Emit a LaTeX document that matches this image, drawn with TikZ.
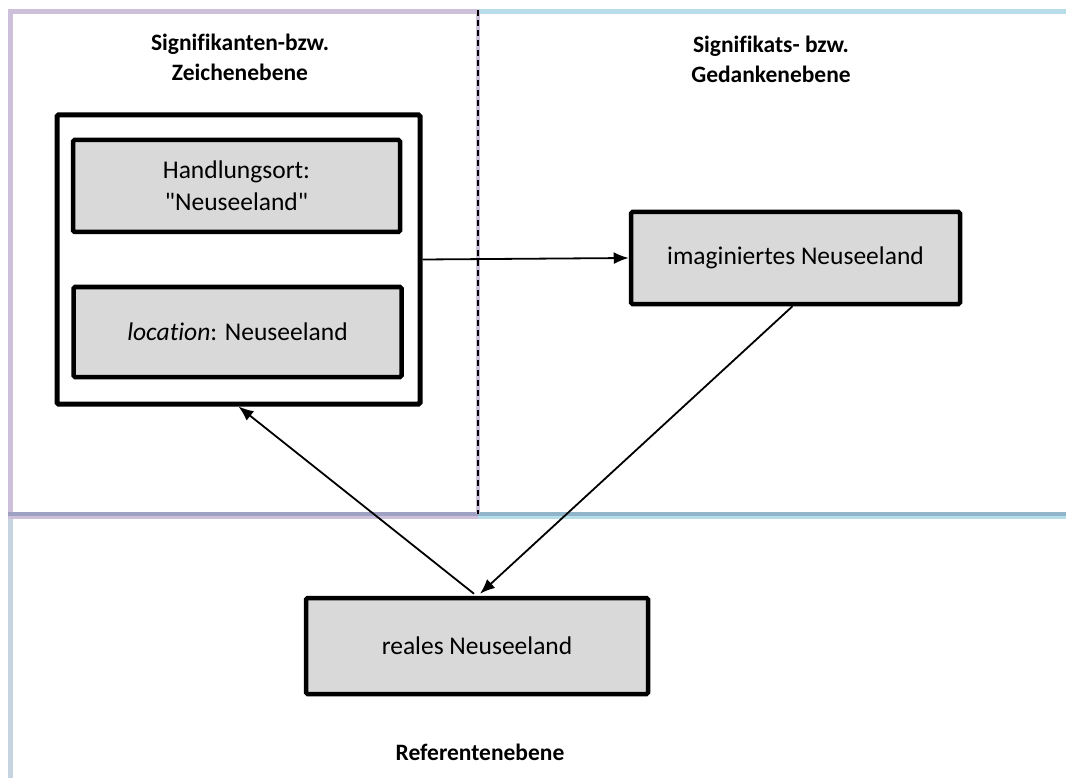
\documentclass[tikz,border=0pt]{standalone}
\usepackage{fontspec}
\setmainfont{Carlito}[Ligatures={TeXOff,NoCommon}]
\usetikzlibrary{arrows.meta,calc}
\definecolor{lav}{HTML}{CCC0DA}
\definecolor{lblue}{HTML}{B7DDE8}
\definecolor{midlav}{HTML}{9EA1C1}
\definecolor{midblue}{HTML}{90B5CA}
\definecolor{grayblue}{HTML}{C6D3E0}
\definecolor{boxgray}{HTML}{D9D9D9}
\tikzset{
  frameline/.style={line width=5pt},
  title/.style={font=\fontsize{23.5}{30}\selectfont\bfseries, align=center, inner sep=0pt},
  graybox/.style={draw=black, line width=4.5pt, fill=boxgray, rounded corners=1.5pt,
    font=\fontsize{25.5}{32}\selectfont, align=center, inner sep=0pt},
  outerbox/.style={draw=black, line width=5pt, fill=white, rounded corners=1.5pt, inner sep=0pt},
  link/.style={line width=1.8pt, -{Latex[length=15pt,width=12pt]}}
}
\begin{document}
\begin{tikzpicture}[x=1pt,y=-1pt]
\useasboundingbox (0,0) rectangle (1066,778);
\fill[white] (0,0) rectangle (1066,778);

% frames of the three levels
\draw[frameline, lav] (8,12) -- (478,12);
\draw[frameline, lblue] (478,12) -- (1066,12);
\draw[frameline, lav] (10,12) -- (10,516);
\draw[frameline, grayblue] (10,516) -- (10,778);
\draw[frameline, lav] (8,516) -- (478,516);
\draw[frameline, lblue] (478,516) -- (1066,516);
\draw[line width=3.5pt, midlav] (8,514) -- (478,514);
\draw[line width=3.5pt, midblue] (478,514) -- (1066,514);
\draw[line width=4pt, lav] (478,10) -- (478,514);
\draw[line width=1.6pt, black, dash pattern=on 6pt off 4pt] (478,10) -- (478,514);

% level titles
\node[title] (t1) at (240,57) {Signifikanten-bzw.\\Zeichenebene};
\node[title] (t2) at (771,59) {Signifikats- bzw.\\Gedankenebene};
\node[title] (t3) at (480,752) {Referentenebene};

% boxes
\node[outerbox, minimum width=363pt, minimum height=289pt] (outer) at (238.5,259.5) {};
\node[graybox, minimum width=327pt, minimum height=92pt] (h1) at (236.5,186) {Handlungsort:\\"Neuseeland"};
\node[graybox, minimum width=328pt, minimum height=90pt] (h2) at (237.5,332) {\textit{location}: Neuseeland};
\node[graybox, minimum width=329pt, minimum height=92pt] (imag) at (795.5,258) {imaginiertes Neuseeland};
\node[graybox, minimum width=342pt, minimum height=96pt] (real) at (477,646) {reales Neuseeland};

% connectors
\draw[link] (outer.east) -- (imag.west);
\draw[link] ($(imag.south)+(-3,0)$) -- ($(real.north)+(3,-2)$);
\draw[link] ($(real.north)+(-3,-2)$) -- (outer.south);
\end{tikzpicture}
\end{document}
